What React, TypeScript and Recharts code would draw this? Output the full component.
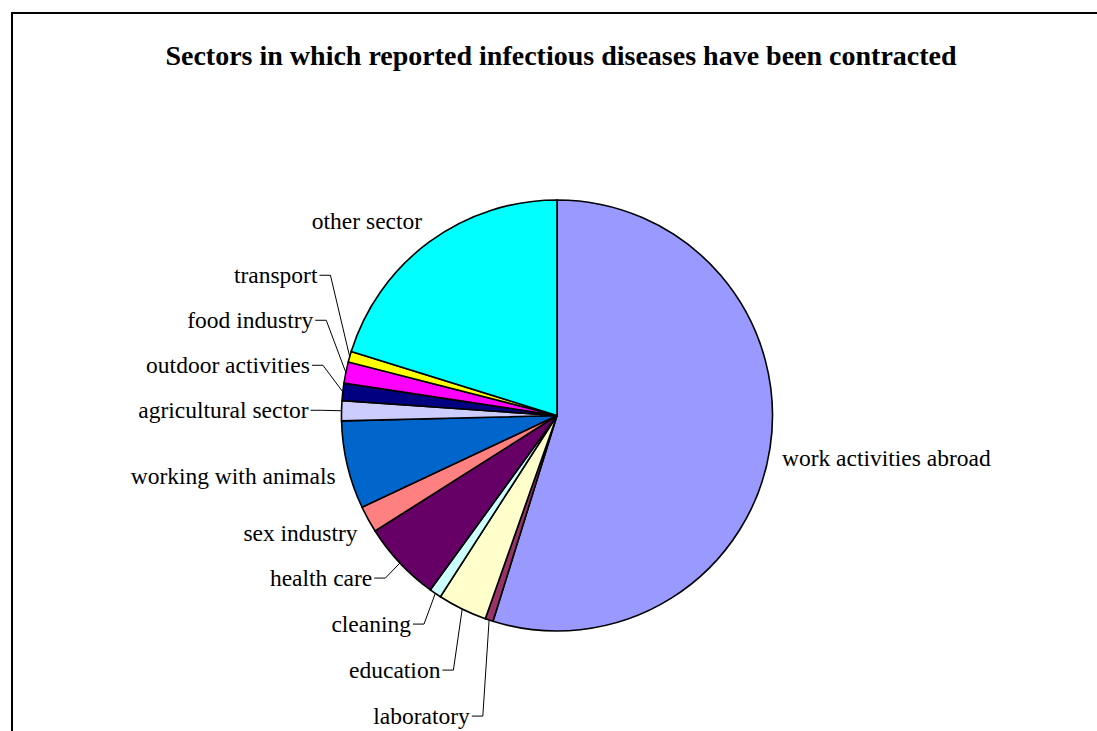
import { PieChart, Pie, Cell } from 'recharts'

// clockwise from 12 o'clock, as in the workbook
const sectors = [
  'work activities abroad',
  'laboratory',
  'education',
  'cleaning',
  'health care',
  'sex industry',
  'working with animals',
  'agricultural sector',
  'outdoor activities',
  'food industry',
  'transport',
  'other sector',
]
const cases = [548, 6, 37, 9, 60, 20, 66, 15, 13, 16, 8, 202]
const colors = [
  '#9999FF', '#993366', '#FFFFCC', '#CCFFFF', '#660066', '#FF8080',
  '#0066CC', '#CCCCFF', '#000080', '#FF00FF', '#FFFF00', '#00FFFF',
]
const withLeader = [
  'laboratory', 'education', 'cleaning', 'health care',
  'agricultural sector', 'outdoor activities', 'food industry', 'transport',
]

const data = sectors.map((name, i) => ({ name, value: cases[i] }))

const W = 1097
const H = 731
const CX = 557
const CY = 415.5
const R = 215.5
const FONT = 23.5
const GAP = 46
const RAD = Math.PI / 180
const serif = '"Liberation Serif", "Times New Roman", serif'

// mid angle in recharts convention (degrees ccw from 3 o'clock), start 90 going clockwise
function midAngles() {
  const total = cases.reduce((a, b) => a + b, 0)
  let acc = 0
  return cases.map((v) => {
    const m = 90 - ((acc + v / 2) / total) * 360
    acc += v
    return m
  })
}

function polar(r: number, a: number) {
  return { x: CX + r * Math.cos(-a * RAD), y: CY + r * Math.sin(-a * RAD) }
}

// excel-like placement: leader labels are stacked so they don't overlap
function layout() {
  const mids = midAngles()
  const ys: number[] = mids.map((a) => polar(R + 22, a).y)
  const idx = sectors.map((_, i) => i).filter((i) => withLeader.includes(sectors[i]))
  const lower = idx.filter((i) => ys[i] > CY).sort((a, b) => ys[a] - ys[b])
  const upper = idx.filter((i) => ys[i] <= CY).sort((a, b) => ys[b] - ys[a])
  let prev = -Infinity
  lower.forEach((i) => {
    ys[i] = Math.max(ys[i], prev + GAP)
    prev = ys[i]
  })
  prev = Infinity
  upper.forEach((i) => {
    ys[i] = Math.min(ys[i], prev - GAP + 1)
    prev = ys[i]
  })
  return ys
}

const labelY = layout()

function renderLabel(props: any) {
  const { cx, cy, midAngle, outerRadius, index, name } = props
  const cos = Math.cos(-midAngle * RAD)
  const sin = Math.sin(-midAngle * RAD)
  const left = cos < 0
  if (withLeader.includes(name)) {
    const edge = { x: cx + outerRadius * cos, y: cy + outerRadius * sin }
    const ex = cx + (outerRadius + 20) * cos
    const y = labelY[index]
    const tx = left ? ex - 13 : ex + 13
    const sx = left ? tx + 2 : tx - 2
    return (
      <g key={`l${index}`}>
        <path d={`M${sx},${y}H${ex}L${edge.x},${edge.y}`} stroke="#000" strokeWidth={1} fill="none" />
        <text x={tx} y={y} textAnchor={left ? 'end' : 'start'} dominantBaseline="central"
          fontFamily={serif} fontSize={FONT} fill="#000">
          {name}
        </text>
      </g>
    )
  }
  const px = cx + (outerRadius + 12) * cos
  const py = cy + (outerRadius + 12) * sin
  const y = sin < 0 ? py - 11 : py + 8
  return (
    <text key={`l${index}`} x={px} y={y} textAnchor={left ? 'end' : 'start'} dominantBaseline="central"
      fontFamily={serif} fontSize={FONT} fill="#000">
      {name}
    </text>
  )
}

export default function App() {
  return (
    <div style={{ position: 'absolute', left: 0, top: 0, width: W, height: H, overflow: 'hidden', background: '#fff' }}>
      <div style={{ position: 'absolute', left: 11, top: 12, width: 1200, height: 1000, border: '2px solid #000' }} />
      <div style={{ position: 'absolute', left: 0, top: 0 }}>
        <PieChart width={W} height={H} margin={{ top: 0, right: 0, bottom: 0, left: 0 }}>
          <text x={561} y={55} textAnchor="middle" dominantBaseline="central"
            fontFamily={serif} fontSize={28} fontWeight="bold" fill="#000">
            Sectors in which reported infectious diseases have been contracted
          </text>
          <Pie
            data={data}
            dataKey="value"
            nameKey="name"
            cx={CX}
            cy={CY}
            outerRadius={R}
            startAngle={90}
            endAngle={-270}
            stroke="#000"
            strokeWidth={1.6}
            label={renderLabel}
            labelLine={false}
            isAnimationActive={false}
          >
            {data.map((d, i) => (
              <Cell key={d.name} fill={colors[i]} />
            ))}
          </Pie>
        </PieChart>
      </div>
    </div>
  )
}
